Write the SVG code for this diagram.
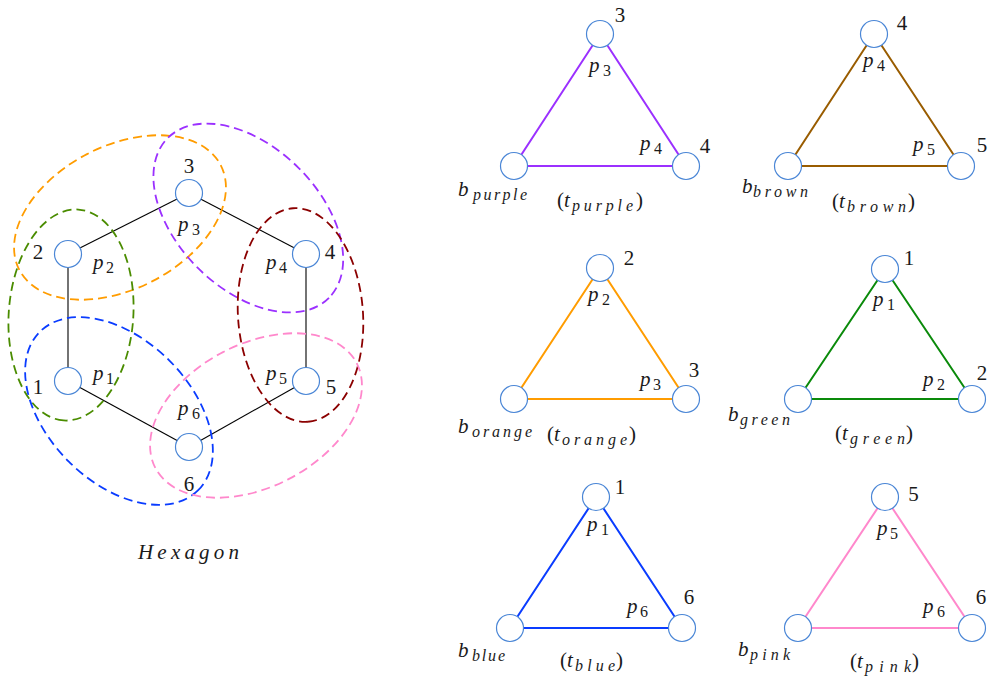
<svg xmlns="http://www.w3.org/2000/svg" xmlns:xlink="http://www.w3.org/1999/xlink" width="988" height="679" viewBox="0 0 988 679" font-family="Liberation Serif, serif">
<defs>
<circle id="nd" cx="0" cy="0" r="13.5" fill="#fff" stroke="#4a86d6" stroke-width="1.2"/>
</defs>
<rect width="988" height="679" fill="#fff"/>

<g id="connectors" fill="none">
  <g id="hex-edges" stroke="#000" stroke-width="1.1">
    <line x1="68" y1="254" x2="189" y2="193"/>
    <line x1="189" y1="193" x2="306" y2="254"/>
    <line x1="306" y1="254" x2="306" y2="381"/>
    <line x1="306" y1="381" x2="189" y2="447"/>
    <line x1="189" y1="447" x2="68" y2="381"/>
    <line x1="68" y1="381" x2="68" y2="254"/>
  </g>
  <g id="tri-edges" stroke-width="2">
    <polygon id="tri-purple" stroke="#9b30ff" points="600,34 686,166 514,166"/>
    <polygon id="tri-brown" stroke="#995c00" points="874,34 961,166 788,166"/>
    <polygon id="tri-orange" stroke="#ff9c00" points="600,268 686,399 514,399"/>
    <polygon id="tri-green" stroke="#0a8a0a" points="885,269 972,399 798,399"/>
    <polygon id="tri-blue" stroke="#0a3cff" points="596,497 682,628 510,628"/>
    <polygon id="tri-pink" stroke="#ff88cc" points="885,497 972,628 798,628"/>
  </g>
</g>

<g id="hexagon-nodes" font-family="serif" font-size="21" fill="#1a1a1a">
<g id="hex-n1"><use xlink:href="#nd" href="#nd" x="68" y="381"/><text font-family="serif" text-anchor="middle" x="38" y="394">1</text><text font-family="serif" font-style="italic" x="93" y="380">p<tspan font-style="normal" font-size="16" x="106" y="384">1</tspan></text></g>
<g id="hex-n2"><use xlink:href="#nd" href="#nd" x="68" y="254"/><text font-family="serif" text-anchor="middle" x="38" y="259">2</text><text font-family="serif" font-style="italic" x="93" y="269">p<tspan font-style="normal" font-size="16" x="106" y="273">2</tspan></text></g>
<g id="hex-n3"><use xlink:href="#nd" href="#nd" x="189" y="193"/><text font-family="serif" text-anchor="middle" x="189" y="173">3</text><text font-family="serif" font-style="italic" x="178" y="231">p<tspan font-style="normal" font-size="16" x="192" y="235">3</tspan></text></g>
<g id="hex-n4"><use xlink:href="#nd" href="#nd" x="306" y="254"/><text font-family="serif" text-anchor="middle" x="330" y="259">4</text><text font-family="serif" font-style="italic" x="266" y="269">p<tspan font-style="normal" font-size="16" x="279" y="273">4</tspan></text></g>
<g id="hex-n5"><use xlink:href="#nd" href="#nd" x="306" y="381"/><text font-family="serif" text-anchor="middle" x="331" y="394">5</text><text font-family="serif" font-style="italic" x="266" y="380">p<tspan font-style="normal" font-size="16" x="279" y="384">5</tspan></text></g>
<g id="hex-n6"><use xlink:href="#nd" href="#nd" x="189" y="447"/><text font-family="serif" text-anchor="middle" x="189" y="491">6</text><text font-family="serif" font-style="italic" x="178" y="415">p<tspan font-style="normal" font-size="16" x="192" y="419">6</tspan></text></g>
</g>

<g id="groups" fill="none" stroke-width="1.8" stroke-dasharray="9 5">
  <ellipse id="g-orange" stroke="#ff9c00" cx="120" cy="217.5" rx="113.5" ry="71.5" transform="rotate(-27.5 120 217.5)"/>
  <ellipse id="g-purple" stroke="#9b30ff" cx="248.3" cy="218" rx="113.5" ry="71" transform="rotate(44.7 248.3 218)"/>
  <ellipse id="g-green" stroke="#4a8c00" cx="71" cy="315" rx="105.7" ry="62.3" transform="rotate(94 71 315)"/>
  <ellipse id="g-maroon" stroke="#8b0000" cx="300.5" cy="315" rx="107" ry="62.5" transform="rotate(86 300.5 315)"/>
  <ellipse id="g-blue" stroke="#0a3cff" cx="119" cy="411" rx="112" ry="71.3" transform="rotate(45 119 411)"/>
  <ellipse id="g-pink" stroke="#ff88cc" cx="256" cy="415.5" rx="113.5" ry="71.5" transform="rotate(-27.5 256 415.5)"/>
</g>

<g id="labels" font-family="serif" font-size="21" fill="#1a1a1a">
<g id="hex-title"><text font-family="serif" font-style="italic" x="138" y="559" textLength="101" lengthAdjust="spacing">Hexagon</text></g>

<g id="t-purple">
  <use xlink:href="#nd" href="#nd" x="600" y="34"/>
  <use xlink:href="#nd" href="#nd" x="686" y="166"/>
  <use xlink:href="#nd" href="#nd" x="514" y="166"/>
  <text font-family="serif" text-anchor="middle" x="620" y="22">3</text>
  <text font-family="serif" text-anchor="middle" x="705" y="153">4</text>
  <text font-family="serif" font-style="italic" x="589" y="72">p<tspan font-style="normal" font-size="16" x="603" y="76">3</tspan></text>
  <text font-family="serif" font-style="italic" x="640" y="150">p<tspan font-style="normal" font-size="16" x="654" y="154">4</tspan></text>
  <text font-family="serif" font-style="italic" x="458" y="196">b<tspan font-size="16" x="473" y="200" textLength="54" lengthAdjust="spacing">purple</tspan></text>
  <text font-family="serif" x="557" y="207">(<tspan font-style="italic">t</tspan><tspan font-style="italic" font-size="16" x="572" y="211" textLength="61" lengthAdjust="spacing">purple</tspan><tspan x="636" y="207">)</tspan></text>
</g>

<g id="t-brown">
  <use xlink:href="#nd" href="#nd" x="874" y="34"/>
  <use xlink:href="#nd" href="#nd" x="961" y="166"/>
  <use xlink:href="#nd" href="#nd" x="788" y="166"/>
  <text font-family="serif" text-anchor="middle" x="902" y="30">4</text>
  <text font-family="serif" text-anchor="middle" x="982" y="152">5</text>
  <text font-family="serif" font-style="italic" x="863" y="67">p<tspan font-style="normal" font-size="16" x="877" y="71">4</tspan></text>
  <text font-family="serif" font-style="italic" x="913" y="151">p<tspan font-style="normal" font-size="16" x="927" y="155">5</tspan></text>
  <text font-family="serif" font-style="italic" x="742" y="193">b<tspan font-size="16" x="753" y="197" textLength="55" lengthAdjust="spacing">brown</tspan></text>
  <text font-family="serif" x="832" y="208">(<tspan font-style="italic">t</tspan><tspan font-style="italic" font-size="16" x="847" y="212" textLength="59" lengthAdjust="spacing">brown</tspan><tspan x="908" y="208">)</tspan></text>
</g>

<g id="t-orange">
  <use xlink:href="#nd" href="#nd" x="600" y="268"/>
  <use xlink:href="#nd" href="#nd" x="686" y="399"/>
  <use xlink:href="#nd" href="#nd" x="514" y="399"/>
  <text font-family="serif" text-anchor="middle" x="629" y="265">2</text>
  <text font-family="serif" text-anchor="middle" x="694" y="377">3</text>
  <text font-family="serif" font-style="italic" x="588" y="301">p<tspan font-style="normal" font-size="16" x="602" y="305">2</tspan></text>
  <text font-family="serif" font-style="italic" x="640" y="386">p<tspan font-style="normal" font-size="16" x="653" y="390">3</tspan></text>
  <text font-family="serif" font-style="italic" x="458" y="433">b<tspan font-size="16" x="472" y="437" textLength="60" lengthAdjust="spacing">orange</tspan></text>
  <text font-family="serif" x="547" y="441">(<tspan font-style="italic">t</tspan><tspan font-style="italic" font-size="16" x="562" y="445" textLength="65" lengthAdjust="spacing">orange</tspan><tspan x="629" y="441">)</tspan></text>
</g>

<g id="t-green">
  <use xlink:href="#nd" href="#nd" x="885" y="269"/>
  <use xlink:href="#nd" href="#nd" x="972" y="399"/>
  <use xlink:href="#nd" href="#nd" x="798" y="399"/>
  <text font-family="serif" text-anchor="middle" x="909" y="265">1</text>
  <text font-family="serif" text-anchor="middle" x="982" y="380">2</text>
  <text font-family="serif" font-style="italic" x="873" y="306">p<tspan font-style="normal" font-size="16" x="887" y="310">1</tspan></text>
  <text font-family="serif" font-style="italic" x="923" y="386">p<tspan font-style="normal" font-size="16" x="937" y="390">2</tspan></text>
  <text font-family="serif" font-style="italic" x="728" y="421">b<tspan font-size="16" x="740" y="425" textLength="50" lengthAdjust="spacing">green</tspan></text>
  <text font-family="serif" x="835" y="440">(<tspan font-style="italic">t</tspan><tspan font-style="italic" font-size="16" x="850" y="444" textLength="55" lengthAdjust="spacing">green</tspan><tspan x="906" y="440">)</tspan></text>
</g>

<g id="t-blue">
  <use xlink:href="#nd" href="#nd" x="596" y="497"/>
  <use xlink:href="#nd" href="#nd" x="682" y="628"/>
  <use xlink:href="#nd" href="#nd" x="510" y="628"/>
  <text font-family="serif" text-anchor="middle" x="620" y="494">1</text>
  <text font-family="serif" text-anchor="middle" x="689" y="604">6</text>
  <text font-family="serif" font-style="italic" x="587" y="531">p<tspan font-style="normal" font-size="16" x="601" y="535">1</tspan></text>
  <text font-family="serif" font-style="italic" x="627" y="613">p<tspan font-style="normal" font-size="16" x="640" y="617">6</tspan></text>
  <text font-family="serif" font-style="italic" x="458" y="657">b<tspan font-size="16" x="472" y="661" textLength="33" lengthAdjust="spacing">blue</tspan></text>
  <text font-family="serif" x="560" y="667">(<tspan font-style="italic">t</tspan><tspan font-style="italic" font-size="16" x="575" y="671" textLength="40" lengthAdjust="spacing">blue</tspan><tspan x="616" y="667">)</tspan></text>
</g>

<g id="t-pink">
  <use xlink:href="#nd" href="#nd" x="885" y="497"/>
  <use xlink:href="#nd" href="#nd" x="972" y="628"/>
  <use xlink:href="#nd" href="#nd" x="798" y="628"/>
  <text font-family="serif" text-anchor="middle" x="913.5" y="501">5</text>
  <text font-family="serif" text-anchor="middle" x="981" y="604">6</text>
  <text font-family="serif" font-style="italic" x="877" y="535">p<tspan font-style="normal" font-size="16" x="890" y="539">5</tspan></text>
  <text font-family="serif" font-style="italic" x="923" y="613">p<tspan font-style="normal" font-size="16" x="937" y="617">6</tspan></text>
  <text font-family="serif" font-style="italic" x="738" y="656">b<tspan font-size="16" x="750" y="660" textLength="40" lengthAdjust="spacing">pink</tspan></text>
  <text font-family="serif" x="850" y="668">(<tspan font-style="italic">t</tspan><tspan font-style="italic" font-size="16" x="865" y="672" textLength="46" lengthAdjust="spacing">pink</tspan><tspan x="912" y="668">)</tspan></text>
</g>
</g>
</svg>
